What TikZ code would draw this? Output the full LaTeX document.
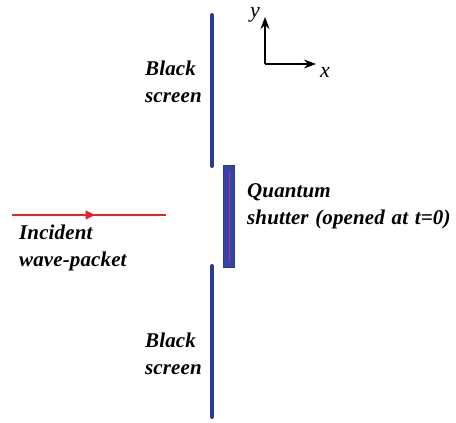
\documentclass[tikz,border=0pt]{standalone}
\usepackage{fontspec}
\setmainfont{Liberation Serif}
\newfontfamily\lblfont[WordSpace=1.25,LetterSpace=0.6]{Liberation Serif}
\usetikzlibrary{arrows.meta,decorations.markings}
\definecolor{scr}{RGB}{44,58,150}
\definecolor{shut}{RGB}{52,68,168}
\definecolor{wave}{RGB}{228,36,40}
\tikzset{
  screen/.style={draw=scr,line width=4pt,line cap=round},
  lbl/.style={font=\lblfont\fontsize{21}{27}\selectfont\bfseries\itshape,inner sep=0pt},
  axis/.style={draw=black,line width=1.4pt,-{Stealth[length=12pt,width=9pt]}},
}
\begin{document}
\begin{tikzpicture}[x=1pt,y=-1pt]
\useasboundingbox (0,0) rectangle (456,423);
% screens
\coordinate (s1a) at (212,15);
\coordinate (s1b) at (212,166);
\coordinate (s2a) at (212,266);
\coordinate (s2b) at (212,417);
\draw[screen] (s1a) -- (s1b);
\draw[screen] (s2a) -- (s2b);
% shutter
\node[draw=scr,fill=shut,line width=1pt,minimum width=11pt,minimum height=102pt,inner sep=0pt] (sh) at (229,216) {};
\coordinate (p1) at (229,171);
\coordinate (p2) at (229,262);
\draw[magenta!60!violet,line width=0.5pt] (p1) -- (p2);
% incident arrow
\coordinate (w1) at (12,215);
\coordinate (w2) at (166,215);
\draw[wave,line width=2.8pt,postaction={decorate},decoration={markings,mark=at position 0.55 with {\arrow[wave]{Latex[length=11pt,width=10pt]}}}] (w1) -- (w2);
% axes
\coordinate (o) at (265,64);
\coordinate (yt) at (265,17);
\coordinate (xt) at (316,64);
\draw[axis] (o) -- (yt);
\draw[axis] (o) -- (xt);
\node[font=\fontsize{22}{24}\selectfont\itshape,inner sep=0pt] (ylab) at (255,15) {y};
\node[font=\fontsize{22}{24}\selectfont\itshape,inner sep=0pt] (xlab) at (325,72) {x};
% labels
\node[lbl,align=left,anchor=west] (b1) at (145,82) {Black\\screen};
\node[lbl,align=left,anchor=west] (b2) at (145,354) {Black\\screen};
\node[lbl,align=left,anchor=west] (q) at (247,206) {Quantum\\shutter (opened at t=0)};
\node[lbl,align=left,anchor=west] (inc) at (19,248) {Incident\\wave-packet};
\end{tikzpicture}
\end{document}
